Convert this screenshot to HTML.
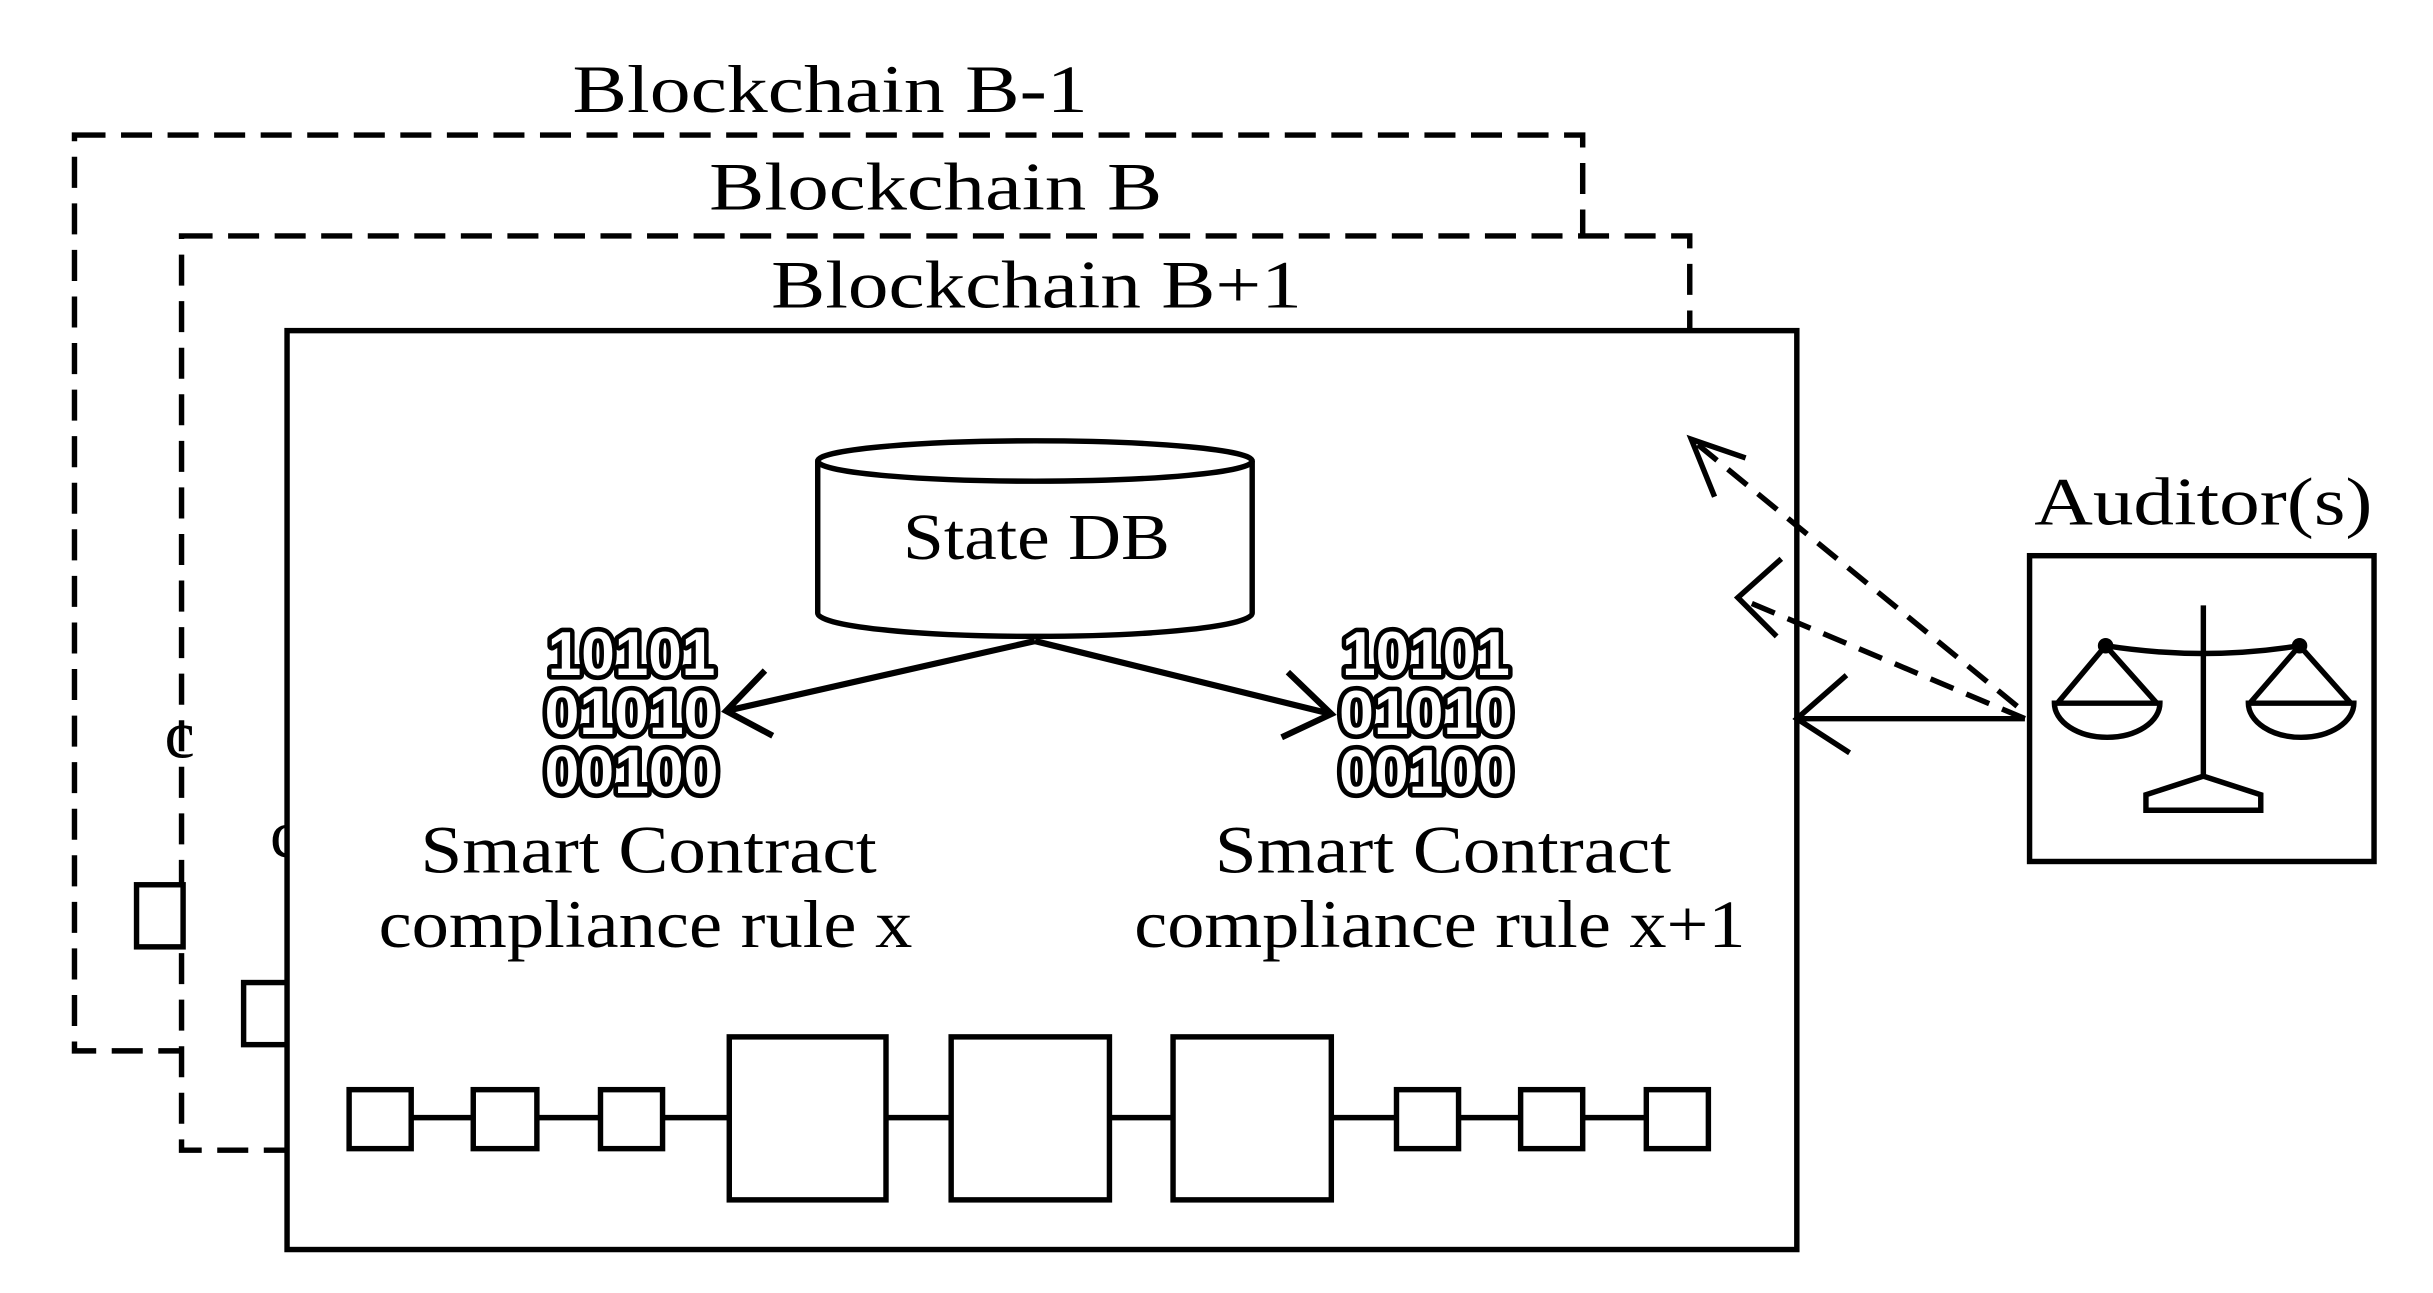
<!DOCTYPE html>
<html><head><style>html,body{margin:0;padding:0;background:#fff}svg{display:block}</style></head>
<body>
<svg width="2433" height="1293" viewBox="0 0 1568 833" preserveAspectRatio="none" xmlns="http://www.w3.org/2000/svg" font-family="Liberation Serif, serif">
<g fill="none" stroke="#000" stroke-width="3.5" stroke-dasharray="20,10">
<rect x="48" y="87" width="972" height="590"/>
<rect x="117" y="152" width="972" height="589" fill="#fff"/>
</g>
<text x="106" y="488" font-size="44">c</text>
<text x="174" y="552" font-size="44">c</text>
<g fill="#fff" stroke="#000" stroke-width="3.5">
<rect x="88" y="570" width="30" height="40"/>
<rect x="157" y="633" width="30" height="40"/>
</g>
<rect x="185" y="213" width="973" height="592" fill="#fff" stroke="#000" stroke-width="3.5"/>
<g fill="#fff" stroke="#000" stroke-width="3.5">
<path d="M527,297 L527,395 A140,15 0 0 0 807,395 L807,297"/>
<ellipse cx="667" cy="297" rx="140" ry="13"/>
</g>
<g font-size="44" text-anchor="middle">
<text x="535" y="72" textLength="332" lengthAdjust="spacingAndGlyphs">Blockchain B-1</text>
<text x="603" y="135" textLength="292" lengthAdjust="spacingAndGlyphs">Blockchain B</text>
<text x="668" y="198" textLength="342" lengthAdjust="spacingAndGlyphs">Blockchain B+1</text>
<text x="1420" y="338" textLength="218" lengthAdjust="spacingAndGlyphs">Auditor(s)</text>
<text x="418" y="562" textLength="294" lengthAdjust="spacingAndGlyphs">Smart Contract</text>
<text x="416" y="610" textLength="344" lengthAdjust="spacingAndGlyphs">compliance rule x</text>
<text x="930" y="562" textLength="294" lengthAdjust="spacingAndGlyphs">Smart Contract</text>
<text x="928" y="610" textLength="394" lengthAdjust="spacingAndGlyphs">compliance rule x+1</text>
<text x="668" y="360" font-size="42" textLength="172" lengthAdjust="spacingAndGlyphs">State DB</text>
</g>
<g stroke="#000" stroke-width="4" fill="none">
<path d="M667,413 L468,458 M493,432 L468,458 L498,474"/>
<path d="M667,413 L858,460 M830,433 L858,460 L826,475"/>
</g>
<g font-family="Liberation Sans, sans-serif" font-weight="bold" font-size="40" fill="#fff" stroke="#000" stroke-width="6" stroke-linejoin="round" text-anchor="middle" paint-order="stroke">
<text x="407" y="435" textLength="108" lengthAdjust="spacingAndGlyphs">10101</text>
<text x="407" y="473" textLength="112" lengthAdjust="spacingAndGlyphs">01010</text>
<text x="407" y="511" textLength="112" lengthAdjust="spacingAndGlyphs">00100</text>
<text x="919" y="435" textLength="108" lengthAdjust="spacingAndGlyphs">10101</text>
<text x="919" y="473" textLength="112" lengthAdjust="spacingAndGlyphs">01010</text>
<text x="919" y="511" textLength="112" lengthAdjust="spacingAndGlyphs">00100</text>
</g>
<line x1="245" y1="720" x2="1081" y2="720" stroke="#000" stroke-width="3.5"/>
<g fill="#fff" stroke="#000" stroke-width="3.5">
<rect x="225" y="702" width="40" height="38"/>
<rect x="305" y="702" width="41" height="38"/>
<rect x="387" y="702" width="40" height="38"/>
<rect x="470" y="668" width="101" height="105"/>
<rect x="613" y="668" width="102" height="105"/>
<rect x="756" y="668" width="102" height="105"/>
<rect x="900" y="702" width="40" height="38"/>
<rect x="980" y="702" width="40" height="38"/>
<rect x="1061" y="702" width="40" height="38"/>
<rect x="1308" y="358" width="222" height="197"/>
</g>
<g stroke="#000" stroke-width="3.5" fill="none">
<path d="M1305,463 L1158,463 M1190,435 L1158,463 L1192,485"/>
<path d="M1305,463 L1120,385" stroke-dasharray="16,9"/>
<path d="M1148,360 L1120,385 L1145,410"/>
<path d="M1300,455 L1090,283" stroke-dasharray="16,9"/>
<path d="M1125,295 L1090,283 L1105,320"/>
<path d="M1420,390 L1420,500"/>
<path d="M1357,416 Q1420,426 1482,416"/>
<path d="M1357,416 L1326,453 M1357,416 L1390,453 M1482,416 L1450,453 M1482,416 L1515,453"/>
<path d="M1324,453 L1392,453 A34,22 0 0 1 1324,453 Z"/>
<path d="M1449,453 L1517,453 A34,22 0 0 1 1449,453 Z"/>
<path d="M1420,500 L1383,512 L1383,522 L1457,522 L1457,512 Z"/>
</g>
<circle cx="1357" cy="416" r="5"/>
<circle cx="1482" cy="416" r="5"/>
</svg>
</body></html>
